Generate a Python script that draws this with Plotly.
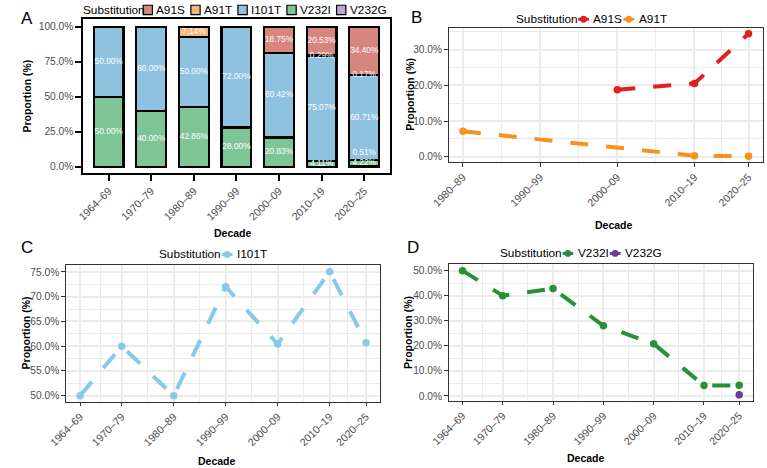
import plotly.graph_objects as go

# ---------------- data ----------------
decades = ["1964–69", "1970–79", "1980–89", "1990–99", "2000–09", "2010–19", "2020–25"]
decade_mid = [1967, 1975, 1985, 1995, 2005, 2015, 2022]
subs = ["A91S", "A91T", "I101T", "V232I", "V232G"]
A91S = [0, 0, 0, 0, 18.75, 20.53, 34.40]
A91T = [0, 0, 7.14, 0, 0, 0.29, 0.17]
I101T = [50.00, 60.00, 50.00, 72.00, 60.42, 75.07, 60.71]
V232I = [50.00, 40.00, 42.86, 28.00, 20.83, 4.11, 4.22]
V232G = [0, 0, 0, 0, 0, 0, 0.51]
ticks_A = [0, 25, 50, 75, 100]
ticks_B = [0, 10, 20, 30]
ticks_C = [50, 55, 60, 65, 70, 75]
ticks_D = [0, 10, 20, 30, 40, 50]

series = dict(A91S=A91S, A91T=A91T, I101T=I101T, V232I=V232I, V232G=V232G)
bar_col = dict(A91S="#D6867C", A91T="#F4B67A", I101T="#8EC2DF", V232I="#7DC594", V232G="#C2A5D8")
line_col = dict(A91S="#E0201F", A91T="#F8921E", I101T="#86CBE6", V232I="#27913A", V232G="#6A3A9E")

W, H = 767, 468
FONT = "Liberation Sans, Arial, sans-serif"
YTICKFONT = dict(family=FONT, size=10.2, color="#4D4D4D")
XTICKFONT = dict(family=FONT, size=10.6, color="#4D4D4D")


def fx(x):
    return x / W


def fy(y):
    return 1 - y / H


def expand(vals, f=0.05):
    lo, hi = min(vals), max(vals)
    d = (hi - lo) * f
    return [lo - d, hi + d]


def pct(v):
    return f"{v:.1f}%"


fig = go.Figure()

# ---------------- Panel A: stacked bars ----------------
stack_order = ["V232G", "V232I", "I101T", "A91T", "A91S"]
for name in stack_order:
    fig.add_trace(go.Bar(
        x=decades, y=[v if v > 0 else None for v in series[name]], name=name,
        marker=dict(color=bar_col[name], line=dict(color="black", width=2.2)),
        width=0.7, xaxis="x", yaxis="y", showlegend=False))

# value labels: segment midpoints, tiny (<1%) labels nudged up out of collisions
LABEL_GAP = 7.0
lx, ly, lt = [], [], []
for i, dec in enumerate(decades):
    base = 0.0
    segs = []
    for name in stack_order:
        v = series[name][i]
        if v > 0:
            segs.append((v, base + v / 2))
            base += v
    placed = [y for v, y in segs if v >= 1]
    for v, y in segs:
        if v < 1:
            moved = True
            while moved:
                moved = False
                for p in placed:
                    if abs(p - y) < LABEL_GAP:
                        y = p + LABEL_GAP
                        moved = True
            placed.append(y)
        lx.append(dec)
        ly.append(y)
        lt.append(f"{v:.2f}%")
fig.add_trace(go.Scatter(x=lx, y=ly, text=lt, mode="text", textposition="middle center",
                         textfont=dict(family=FONT, size=8.3, color="white"),
                         xaxis="x", yaxis="y", showlegend=False, cliponaxis=False))


# ---------------- line panels ----------------
def add_lines(names, xa, ya):
    for name in names:
        idx = [i for i, v in enumerate(series[name]) if v > 0]
        fig.add_trace(go.Scatter(
            x=[decade_mid[i] for i in idx], y=[series[name][i] for i in idx],
            mode="lines+markers", name=name,
            line=dict(color=line_col[name], width=4, dash="18px,18px"),
            marker=dict(color=line_col[name], size=7.5),
            xaxis=xa, yaxis=ya, showlegend=False, cliponaxis=False))


add_lines(["A91S", "A91T"], "x2", "y2")
add_lines(["I101T"], "x3", "y3")
add_lines(["V232I", "V232G"], "x4", "y4")

idx_B = [i for i in range(len(decades)) if A91S[i] > 0 or A91T[i] > 0]
idx_B = list(range(min(idx_B), len(decades)))
xs_B = [decade_mid[i] for i in idx_B]
xl_B = [decades[i] for i in idx_B]


def minor_mid(vals):
    return [(a + b) / 2 for a, b in zip(vals[:-1], vals[1:])]


def minor_y(ticks, rng):
    step = ticks[1] - ticks[0]
    cand = [ticks[0] - step / 2] + [t + step / 2 for t in ticks]
    return [c for c in cand if rng[0] <= c <= rng[1]]


GRID = "#EBEBEB"


def line_xaxis(dom, anchor, xs, labels):
    return dict(domain=dom, anchor=anchor, range=expand(xs), tickmode="array",
                tickvals=xs, ticktext=labels, tickangle=-45, tickfont=XTICKFONT,
                showgrid=True, gridcolor=GRID, gridwidth=1.6, zeroline=False,
                showline=True, mirror=True, linecolor="#333333", linewidth=1.1,
                ticks="outside", ticklen=3.5, tickwidth=1, tickcolor="#333333",
                minor=dict(tickmode="array", tickvals=minor_mid(xs), showgrid=True,
                           gridcolor=GRID, gridwidth=0.9, ticks=""))


def line_yaxis(dom, anchor, vals, ticks):
    rng = expand(vals)
    return dict(domain=dom, anchor=anchor, range=rng, tickmode="array",
                tickvals=ticks, ticktext=[pct(t) for t in ticks], tickfont=YTICKFONT,
                showgrid=True, gridcolor=GRID, gridwidth=1.6, zeroline=False,
                showline=True, mirror=True, linecolor="#333333", linewidth=1.1,
                ticks="outside", ticklen=3.5, tickwidth=1, tickcolor="#333333",
                minor=dict(tickmode="array", tickvals=minor_y(ticks, rng), showgrid=True,
                           gridcolor=GRID, gridwidth=0.9, ticks=""))


valsB = [v for v in A91S + A91T if v > 0]
valsC = [v for v in I101T if v > 0]
valsD = [v for v in V232I + V232G if v > 0]

layout = dict(
    width=W, height=H, margin=dict(l=0, r=0, t=0, b=0), autosize=False,
    paper_bgcolor="white", plot_bgcolor="white", barmode="stack", bargap=0.3,
    showlegend=False, font=dict(family=FONT, color="black"),
    xaxis=dict(domain=[fx(66.7), fx(380.7)], anchor="y", type="category",
               range=[-0.6, len(decades) - 0.4], tickangle=-45, tickfont=XTICKFONT,
               showgrid=False, zeroline=False, showline=True, mirror=True,
               linecolor="black", linewidth=1.6, ticks="outside", ticklen=6,
               tickwidth=2, tickcolor="black"),
    yaxis=dict(domain=[fy(173.3), fy(19)], anchor="x", range=[-4.5, 105.5],
               tickmode="array", tickvals=ticks_A, ticktext=[pct(t) for t in ticks_A],
               tickfont=YTICKFONT, showgrid=False, zeroline=False, showline=True,
               mirror=True, linecolor="black", linewidth=1.6, ticks="outside",
               ticklen=6, tickwidth=2, tickcolor="black"),
    xaxis2=line_xaxis([fx(441), fx(762.7)], "y2", xs_B, xl_B),
    yaxis2=line_yaxis([fy(162.7), fy(27.7)], "x2", valsB, ticks_B),
    xaxis3=line_xaxis([fx(49), fx(371)], "y3", decade_mid, decades),
    yaxis3=line_yaxis([fy(402.7), fy(266)], "x3", valsC, ticks_C),
    xaxis4=line_xaxis([fx(441), fx(752.7)], "y4", decade_mid, decades),
    yaxis4=line_yaxis([fy(401.7), fy(265)], "x4", valsD, ticks_D),
)

anns = []
shapes = []


def ann(text, x, y, size, angle=0, weight="normal", xanchor="center"):
    anns.append(dict(text=text, x=fx(x), y=fy(y), xref="paper", yref="paper",
                     xanchor=xanchor, yanchor="middle", showarrow=False, textangle=angle,
                     font=dict(family=FONT, size=size, color="black", weight=weight)))


# panel letters
for letter, x, y in [("A", 9, 18.5), ("B", 408, 17.7), ("C", 9.5, 247.7), ("D", 404, 248)]:
    ann(letter, x, y, 17)

# axis titles
for x, y in [(220, 233.3), (610, 225), (203.3, 461.7), (581.7, 459)]:
    ann("Decade", x, y, 10.5, weight="bold")
for x, y in [(9, 96), (401.5, 95), (8.3, 334), (400, 333)]:
    ann("Proportion (%)", x, y, 10.5, angle=-90, weight="bold")

# custom ggplot-like legends
AW = {'A': 667, 'S': 667, 'T': 611, 'V': 667, 'I': 278, 'G': 778, 'u': 556, 'b': 556,
      's': 500, 't': 278, 'i': 222, 'o': 556, 'n': 556}
LEG = 11.8


def tw(s, size):
    return sum(AW.get(c, 556) for c in s) * size / 1000


def legend(x0, yc, names, kind, title_gap, key_w, key_gap, item_gap):
    ann("Substitution", x0, yc, LEG, xanchor="left")
    x = x0 + tw("Substitution", LEG) + title_gap
    for n in names:
        if kind == "box":
            shapes.append(dict(type="rect", xref="paper", yref="paper",
                               x0=fx(x), x1=fx(x + key_w), y0=fy(yc + key_w / 2),
                               y1=fy(yc - key_w / 2), fillcolor=bar_col[n],
                               line=dict(color="black", width=1.2)))
        else:
            shapes.append(dict(type="line", xref="paper", yref="paper",
                               x0=fx(x), x1=fx(x + key_w), y0=fy(yc), y1=fy(yc),
                               line=dict(color=line_col[n], width=3)))
            cx, r = x + key_w / 2, 3.4
            shapes.append(dict(type="circle", xref="paper", yref="paper",
                               x0=fx(cx - r), x1=fx(cx + r), y0=fy(yc + r), y1=fy(yc - r),
                               fillcolor=line_col[n], line=dict(width=0)))
        tx = x + key_w + key_gap
        ann(n, tx, yc, LEG, xanchor="left")
        x = tx + tw(n, LEG) + item_gap


legend(65, 10, subs, "box", 1.5, 9.5, 2, 8.5)
legend(507.5, 19.3, ["A91S", "A91T"], "line", 4.5, 11, 2.5, 4)
legend(142.5, 255, ["I101T"], "line", 4.5, 11, 2.5, 4)
legend(491.5, 254, ["V232I", "V232G"], "line", 4.5, 11, 2.5, 4)

layout["annotations"] = anns
layout["shapes"] = shapes
fig.update_layout(**layout)
fig.write_html("out.html")
